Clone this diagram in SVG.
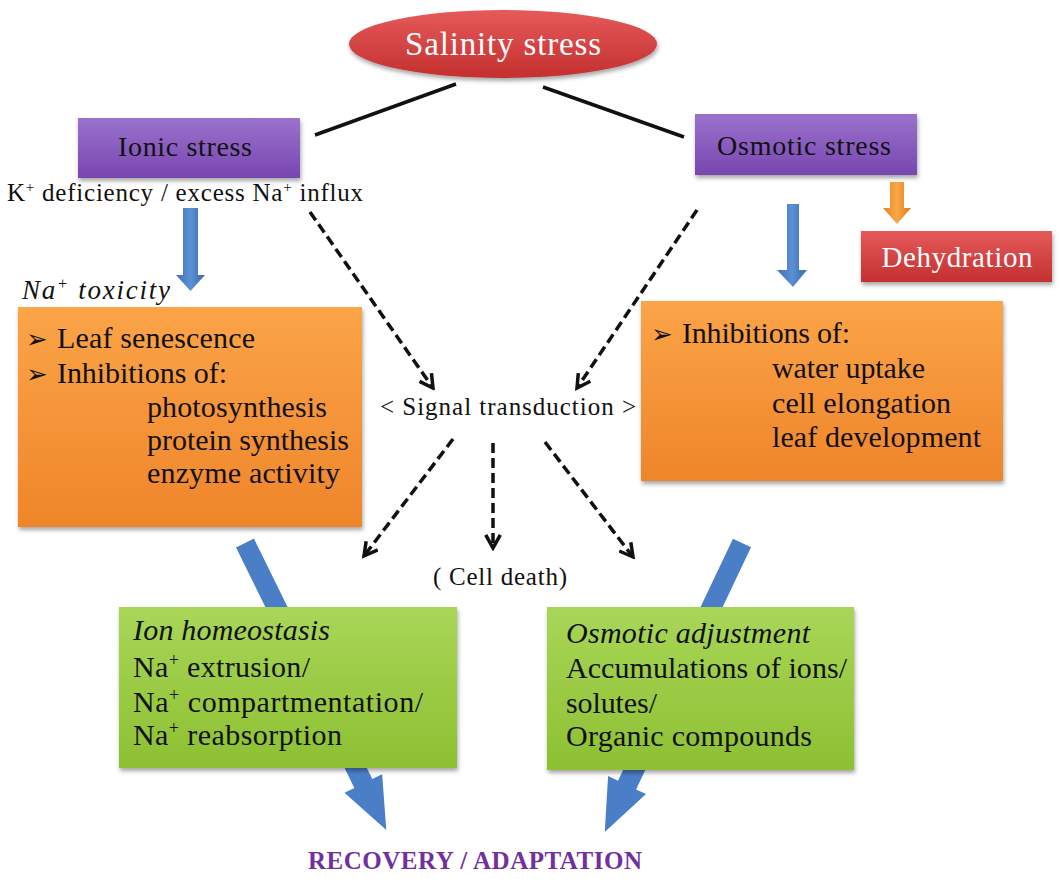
<svg xmlns="http://www.w3.org/2000/svg" width="1061" height="879" viewBox="0 0 1061 879">
  <style>
    .serif { font-family: "Liberation Serif", "Times New Roman", serif; fill: #111; }
    .body { font-size: 30px; }
    .it { font-style: italic; }
    .bul { font-family: "DejaVu Sans", sans-serif; font-size: 26px; fill: #111; }
    .dash { fill: none; stroke: #111; stroke-width: 3.5; stroke-dasharray: 10 5; marker-end: url(#chev); }
    .solid { fill: none; stroke: #111; stroke-width: 3.5; }
    .sup { font-size: 60%; }
  </style>
  <defs>
    <linearGradient id="gPurple" x1="0" y1="0" x2="0" y2="1">
      <stop offset="0" stop-color="#9a72cc"/>
      <stop offset="1" stop-color="#7846b0"/>
    </linearGradient>
    <linearGradient id="gOrange" x1="0" y1="0" x2="0" y2="1">
      <stop offset="0" stop-color="#fba448"/>
      <stop offset="1" stop-color="#ef852a"/>
    </linearGradient>
    <linearGradient id="gGreen" x1="0" y1="0" x2="0" y2="1">
      <stop offset="0" stop-color="#a9d658"/>
      <stop offset="1" stop-color="#8dc032"/>
    </linearGradient>
    <linearGradient id="gRed" x1="0" y1="0" x2="0" y2="1">
      <stop offset="0" stop-color="#e55a5a"/>
      <stop offset="1" stop-color="#c42f2f"/>
    </linearGradient>
    <linearGradient id="gBlue" x1="0" y1="0" x2="1" y2="0">
      <stop offset="0" stop-color="#3f70b8"/>
      <stop offset="0.5" stop-color="#5b8fd6"/>
      <stop offset="1" stop-color="#3a68ad"/>
    </linearGradient>
    <linearGradient id="gAmber" x1="0" y1="0" x2="1" y2="0">
      <stop offset="0" stop-color="#e8821f"/>
      <stop offset="0.5" stop-color="#f9a848"/>
      <stop offset="1" stop-color="#e07a1a"/>
    </linearGradient>
    <filter id="shadow" x="-10%" y="-10%" width="120%" height="130%">
      <feDropShadow dx="1" dy="3" stdDeviation="2" flood-color="#000" flood-opacity="0.35"/>
    </filter>
    <marker id="chev" viewBox="0 0 12 12" refX="10" refY="6" markerWidth="5" markerHeight="5" markerUnits="strokeWidth" orient="auto">
      <path d="M1,1 L10,6 L1,11" fill="none" stroke="#111" stroke-width="2.4"/>
    </marker>
  </defs>

  <rect width="1061" height="879" fill="#fff"/>

  <!-- block arrows -->
  <g id="block-arrows">
    <polygon points="183,208 198,208 198,275 205,275 190.5,291 176,275 183,275" fill="url(#gBlue)"/>
    <polygon points="787,204 799,204 799,270 807,270 793,287 777,270 787,270" fill="url(#gBlue)"/>
    <polygon points="890,182 904,182 904,208 911,208 897,224 883,208 890,208" fill="url(#gAmber)"/>
    <!-- diagonal arrows running behind the green boxes -->
    <g transform="translate(245,543) rotate(-26.2)">
      <polygon points="-10,0 10,0 10,268 21,268 0,320 -21,268 -10,268" fill="#4a7fc8"/>
    </g>
    <g transform="translate(742,543) rotate(25.4)">
      <polygon points="-10,0 10,0 10,268 21,268 0,320 -21,268 -10,268" fill="#4a7fc8"/>
    </g>
  </g>

  <!-- connectors -->
  <g id="connectors">
    <line class="solid" x1="456" y1="84" x2="315" y2="135"/>
    <line class="solid" x1="543" y1="87" x2="684" y2="137"/>
    <line class="dash" x1="310" y1="212" x2="433" y2="388"/>
    <line class="dash" x1="697" y1="210" x2="577" y2="388"/>
    <line class="dash" x1="453" y1="439" x2="364" y2="556"/>
    <line class="dash" x1="493" y1="443" x2="493" y2="548"/>
    <line class="dash" x1="545" y1="442" x2="633" y2="557"/>
  </g>

  <g id="salinity-stress">
    <ellipse cx="503" cy="44" rx="154" ry="34" fill="url(#gRed)" filter="url(#shadow)"/>
    <text class="serif" x="503" y="55" font-size="33" text-anchor="middle" style="fill:#fff" textLength="196">Salinity stress</text>
  </g>

  <g id="ionic-stress">
    <rect x="78" y="118" width="222" height="60" fill="url(#gPurple)" filter="url(#shadow)"/>
    <text class="serif" x="185" y="156" font-size="28" text-anchor="middle" textLength="134">Ionic stress</text>
  </g>
  <text id="ionic-label" class="serif" x="7" y="201" font-size="25" textLength="356">K<tspan class="sup" dy="-9">+</tspan><tspan dy="9"> deficiency  /  excess Na</tspan><tspan class="sup" dy="-9">+</tspan><tspan dy="9"> influx</tspan></text>

  <g id="osmotic-stress">
    <rect x="695" y="114" width="222" height="61" fill="url(#gPurple)" filter="url(#shadow)"/>
    <text class="serif" x="804" y="155" font-size="28" text-anchor="middle" textLength="174">Osmotic stress</text>
  </g>

  <g id="dehydration">
    <rect x="861" y="231" width="191" height="51" fill="url(#gRed)" filter="url(#shadow)"/>
    <text class="serif" x="957" y="267" font-size="29" text-anchor="middle" style="fill:#fff" textLength="151">Dehydration</text>
  </g>

  <text id="na-toxicity" class="serif it" x="22" y="299" font-size="27" textLength="148">Na<tspan class="sup" dy="-10">+</tspan><tspan dy="10"> toxicity</tspan></text>

  <g id="ionic-effects">
    <rect x="18" y="307" width="344" height="220" fill="url(#gOrange)" filter="url(#shadow)"/>
    <text class="bul" x="26" y="348">➢</text>
    <text class="serif body" x="57" y="348" textLength="198">Leaf senescence</text>
    <text class="bul" x="26" y="383">➢</text>
    <text class="serif body" x="57" y="383" textLength="170">Inhibitions of:</text>
    <text class="serif body" x="147" y="417" textLength="180">photosynthesis</text>
    <text class="serif body" x="147" y="450" textLength="202">protein synthesis</text>
    <text class="serif body" x="147" y="483" textLength="193">enzyme activity</text>
  </g>

  <g id="osmotic-effects">
    <rect x="641" y="301" width="362" height="180" fill="url(#gOrange)" filter="url(#shadow)"/>
    <text class="bul" x="651" y="343">➢</text>
    <text class="serif body" x="682" y="343" textLength="168">Inhibitions of:</text>
    <text class="serif body" x="772" y="378" textLength="153">water uptake</text>
    <text class="serif body" x="772" y="413" textLength="179">cell elongation</text>
    <text class="serif body" x="772" y="447" textLength="209">leaf development</text>
  </g>

  <text id="signal-transduction" class="serif" x="380" y="415" font-size="25" textLength="256">&lt; Signal transduction &gt;</text>

  <text id="cell-death" class="serif" x="433" y="585" font-size="25" textLength="134">( Cell death)</text>

  <g id="ion-homeostasis">
    <rect x="119" y="607" width="338" height="161" fill="url(#gGreen)" filter="url(#shadow)"/>
    <text class="serif body it" x="133" y="640" textLength="197">Ion homeostasis</text>
    <text class="serif body" x="133" y="677" textLength="177">Na<tspan class="sup" dy="-11">+</tspan><tspan dy="11"> extrusion/</tspan></text>
    <text class="serif body" x="133" y="712" textLength="290">Na<tspan class="sup" dy="-11">+</tspan><tspan dy="11"> compartmentation/</tspan></text>
    <text class="serif body" x="133" y="745" textLength="209">Na<tspan class="sup" dy="-11">+</tspan><tspan dy="11"> reabsorption</tspan></text>
  </g>

  <g id="osmotic-adjustment">
    <rect x="547" y="607" width="307" height="163" fill="url(#gGreen)" filter="url(#shadow)"/>
    <text class="serif body it" x="566" y="643" textLength="244">Osmotic adjustment</text>
    <text class="serif body" x="566" y="678" textLength="281">Accumulations of ions/</text>
    <text class="serif body" x="566" y="713" textLength="91">solutes/</text>
    <text class="serif body" x="566" y="746" textLength="246">Organic compounds</text>
  </g>

  <text id="recovery" class="serif" x="475" y="869" font-size="25" font-weight="bold" text-anchor="middle" style="fill:#7030a0" textLength="334">RECOVERY / ADAPTATION</text>
</svg>
